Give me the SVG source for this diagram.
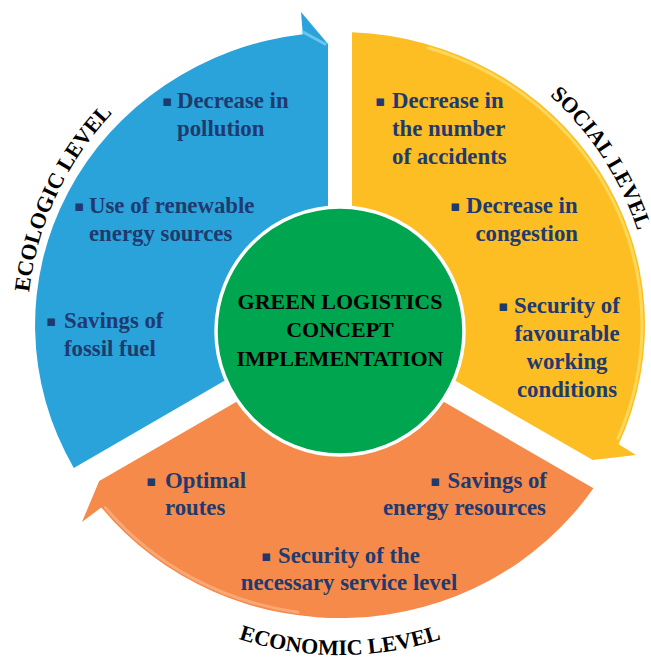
<svg xmlns="http://www.w3.org/2000/svg" width="651" height="659" viewBox="0 0 651 659">
<style>
.t{font-family:"Liberation Serif","Times New Roman",serif;font-weight:bold;font-size:22.8px;fill:#1F3A6E}
.b{font-family:"DejaVu Sans",sans-serif;font-size:15px}
.c{font-family:"Liberation Serif","Times New Roman",serif;font-weight:bold;font-size:22px;fill:#000}
.lbl{font-family:"Liberation Serif","Times New Roman",serif;font-weight:bold;font-size:22px;fill:#000}
.hl{fill:none;stroke-width:3;stroke-linecap:round}
</style>
<defs>
<path id="pEco" d="M 37.7 409 A 313 313 0 0 1 207.7 44.3"/>
<path id="pSoc" d="M 541.2 88.2 A 313 313 0 0 1 640.9 241.7"/>
<path id="pEcon" d="M 129.8 578.5 A 327 327 0 0 0 550.2 578.5"/>
</defs>
<rect width="651" height="659" fill="#fff"/>

<g id="node-ecologic">
<path d="M 73.8 467.9 A 305 293 0 0 1 302.8 34.2 L 301 12 L 328 44 L 328 321 Z" fill="#2AA3DB"/>
<path class="hl" d="M 303 32 L 325 44" stroke="#7CCDF0" opacity="0.8"/>
<text class="t" y="108"><tspan class="b" x="162" dy="-2">▪</tspan><tspan x="177" dy="2">Decrease in</tspan></text>
<text class="t" x="177" y="136">pollution</text>
<text class="t" y="213"><tspan class="b" x="74" dy="-2">▪</tspan><tspan x="89" dy="2">Use of renewable</tspan></text>
<text class="t" x="89" y="241">energy sources</text>
<text class="t" y="328"><tspan class="b" x="46" dy="-2">▪</tspan><tspan x="64" dy="2">Savings of</tspan></text>
<text class="t" x="64" y="356">fossil fuel</text>
<text class="lbl"><textPath href="#pEco" startOffset="50%" text-anchor="middle">ECOLOGIC LEVEL</textPath></text>
</g>

<g id="node-social">
<path d="M 352 32.2 A 305 293 0 0 1 618.6 444.2 L 636 455 L 592.8 460.1 L 352 321.1 Z" fill="#FDBE23"/>
<path class="hl" d="M 428.3 47.7 A 302 290 0 0 1 618 438.3" stroke="#FFDD66" opacity="0.8"/>
<text class="t" y="108"><tspan class="b" x="375" dy="-2">▪</tspan><tspan x="392" dy="2">Decrease in</tspan></text>
<text class="t" x="392" y="136">the number</text>
<text class="t" x="392" y="164">of accidents</text>
<text class="t" y="213"><tspan class="b" x="450" dy="-2">▪</tspan><tspan x="466" dy="2">Decrease in</tspan></text>
<text class="t" x="578" y="241" text-anchor="end">congestion</text>
<text class="t" y="313"><tspan class="b" x="498" dy="-2">▪</tspan><tspan x="514" dy="2">Security of</tspan></text>
<text class="t" x="567" y="341" text-anchor="middle">favourable</text>
<text class="t" x="567" y="369" text-anchor="middle">working</text>
<text class="t" x="567" y="397" text-anchor="middle">conditions</text>
<text class="lbl"><textPath href="#pSoc" startOffset="50%" text-anchor="middle">SOCIAL LEVEL</textPath></text>
</g>

<g id="node-economic">
<path d="M 593.4 488.2 A 305 293 0 0 1 101.3 507.4 L 82 522 L 99.2 480.9 L 340 341.9 Z" fill="#F58A4A"/>
<path class="hl" d="M 298 612.2 A 302 290 0 0 1 105.3 507.5" stroke="#F9AE80" opacity="0.8"/>
<text class="t" y="488"><tspan class="b" x="146" dy="-2">▪</tspan><tspan x="165" dy="2">Optimal</tspan></text>
<text class="t" x="165" y="515">routes</text>
<text class="t" y="488"><tspan class="b" x="430" dy="-2">▪</tspan><tspan x="447.5" dy="2">Savings of</tspan></text>
<text class="t" x="546" y="515" text-anchor="end">energy resources</text>
<text class="t" y="563"><tspan class="b" x="261" dy="-2">▪</tspan><tspan x="278" dy="2">Security of the</tspan></text>
<text class="t" x="349" y="590" text-anchor="middle">necessary service level</text>
<text class="lbl"><textPath href="#pEcon" startOffset="50%" text-anchor="middle">ECONOMIC LEVEL</textPath></text>
</g>

<g id="node-center">
<circle cx="340" cy="331" r="124" fill="#00A64F" stroke="#fff" stroke-width="3.5"/>
<text class="c" x="340" y="309" text-anchor="middle">GREEN LOGISTICS</text>
<text class="c" x="340" y="337" text-anchor="middle">CONCEPT</text>
<text class="c" x="340" y="366" text-anchor="middle">IMPLEMENTATION</text>
</g>
</svg>
